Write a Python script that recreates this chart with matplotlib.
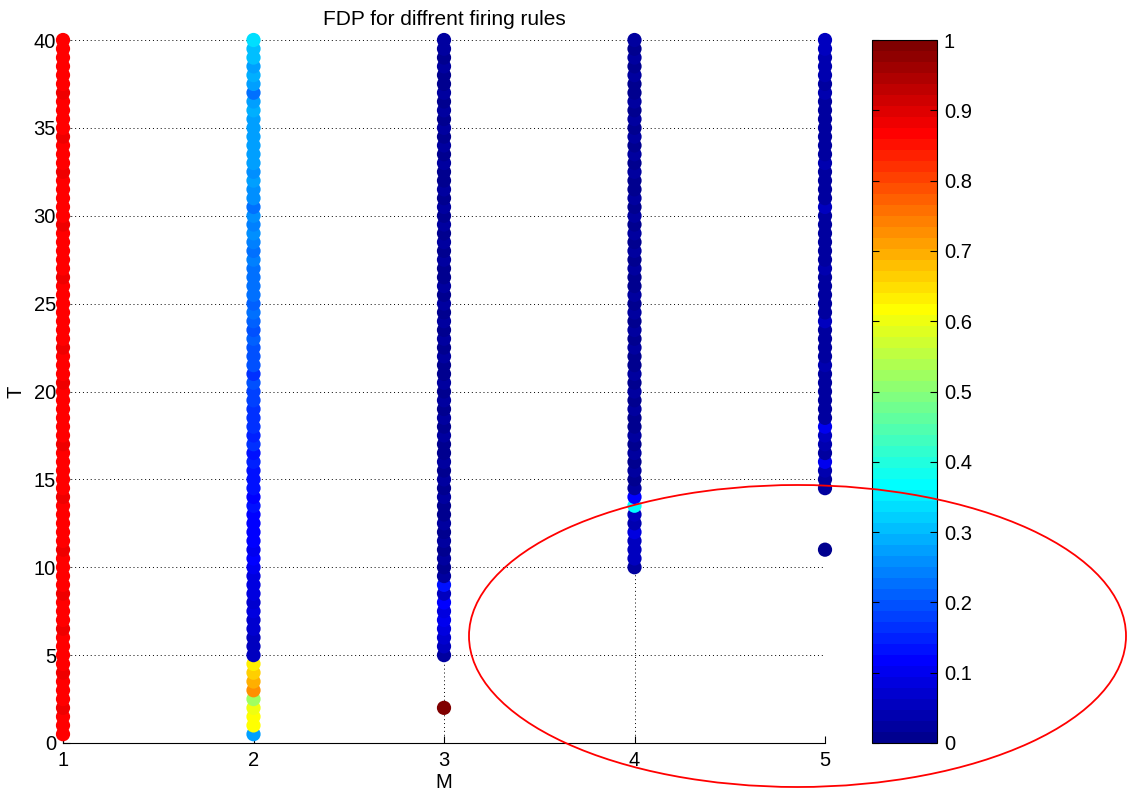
import numpy as np
import matplotlib
matplotlib.use("Agg")
import matplotlib.pyplot as plt
from matplotlib.patches import Ellipse
from matplotlib.colors import ListedColormap

plt.rcParams['font.family'] = ['Liberation Sans', 'DejaVu Sans']

# ---- data -------------------------------------------------------------
title = "FDP for diffrent firing rules"
x_label = "M"
y_label = "T"
M_values = [1, 2, 3, 4, 5]
T_step = 0.5

# M = 1 : T = 0.5 .. 40
T_m1 = np.arange(0.5, 40.0 + 1e-9, T_step)
fdp_m1 = [0.87, 0.86, 0.87, 0.88, 0.86, 0.87, 0.86, 0.88, 0.87, 0.86,
          0.87, 0.86, 0.88, 0.87, 0.86, 0.87, 0.88, 0.86, 0.87, 0.86,
          0.87, 0.88, 0.86, 0.87, 0.86, 0.87, 0.86, 0.88, 0.87, 0.86,
          0.87, 0.86, 0.87, 0.88, 0.86, 0.87, 0.86, 0.87, 0.86, 0.87,
          0.88, 0.86, 0.87, 0.86, 0.88, 0.87, 0.86, 0.87, 0.86, 0.87,
          0.86, 0.87, 0.88, 0.86, 0.87, 0.86, 0.87, 0.86, 0.88, 0.87,
          0.86, 0.87, 0.86, 0.87, 0.88, 0.86, 0.87, 0.86, 0.88, 0.87,
          0.86, 0.87, 0.86, 0.88, 0.87, 0.86, 0.87, 0.86, 0.87, 0.87]

# M = 2 : T = 0.5 .. 40
T_m2 = np.arange(0.5, 40.0 + 1e-9, T_step)
fdp_m2 = [0.28, 0.62, 0.61, 0.60, 0.52, 0.72, 0.70, 0.66, 0.64,
          0.05, 0.06, 0.06, 0.07, 0.07, 0.08, 0.07, 0.08, 0.09, 0.09,
          0.10, 0.11, 0.10, 0.11, 0.12, 0.11, 0.12, 0.13, 0.12, 0.13,
          0.13, 0.14, 0.15, 0.14, 0.16, 0.15, 0.17, 0.16, 0.17, 0.18,
          0.18, 0.19, 0.16, 0.20, 0.19, 0.20, 0.21, 0.20, 0.21, 0.22,
          0.21, 0.22, 0.23, 0.22, 0.23, 0.24, 0.23, 0.24, 0.25, 0.24,
          0.25, 0.22, 0.25, 0.26, 0.27, 0.26, 0.27, 0.28, 0.27, 0.28,
          0.27, 0.28, 0.29, 0.28, 0.22, 0.28, 0.29, 0.28, 0.30, 0.31,
          0.33]

# M = 3 : T = 2 and T = 5 .. 40
T_m3 = np.concatenate([[2.0], np.arange(5.0, 40.0 + 1e-9, T_step)])
fdp_m3 = [1.00,
          0.03, 0.05, 0.07, 0.08, 0.10, 0.08, 0.12, 0.06, 0.13, 0.02,
          0.01, 0.02, 0.01, 0.02, 0.01, 0.02, 0.01, 0.01, 0.02, 0.01,
          0.02, 0.01, 0.02, 0.01, 0.01, 0.02, 0.01, 0.02, 0.01, 0.02,
          0.01, 0.02, 0.01, 0.01, 0.02, 0.01, 0.02, 0.01, 0.02, 0.01,
          0.02, 0.01, 0.02, 0.01, 0.01, 0.02, 0.01, 0.02, 0.01, 0.02,
          0.01, 0.02, 0.01, 0.02, 0.01, 0.01, 0.02, 0.01, 0.02, 0.01,
          0.02, 0.01, 0.02, 0.01, 0.02, 0.01, 0.01, 0.02, 0.01, 0.02,
          0.02]

# M = 4 : T = 10 .. 40
T_m4 = np.arange(10.0, 40.0 + 1e-9, T_step)
fdp_m4 = [0.02, 0.05, 0.06, 0.05, 0.09, 0.04, 0.05, 0.36, 0.12, 0.02,
          0.01, 0.02, 0.01, 0.02, 0.01, 0.02, 0.01, 0.01, 0.02, 0.01,
          0.02, 0.01, 0.02, 0.01, 0.01, 0.02, 0.01, 0.02, 0.01, 0.02,
          0.01, 0.02, 0.01, 0.01, 0.02, 0.01, 0.02, 0.01, 0.02, 0.01,
          0.02, 0.01, 0.02, 0.01, 0.01, 0.02, 0.01, 0.02, 0.01, 0.02,
          0.01, 0.02, 0.01, 0.02, 0.01, 0.01, 0.02, 0.01, 0.02, 0.01,
          0.02]

# M = 5 : T = 11 and T = 14.5 .. 40
T_m5 = np.concatenate([[11.0], np.arange(14.5, 40.0 + 1e-9, T_step)])
fdp_m5 = [0.01,
          0.02, 0.03, 0.04, 0.10, 0.03, 0.04, 0.05, 0.10, 0.02,
          0.03, 0.02, 0.03, 0.02, 0.03, 0.04, 0.02, 0.03, 0.02, 0.03,
          0.05, 0.02, 0.03, 0.02, 0.03, 0.02, 0.04, 0.03, 0.02, 0.03,
          0.02, 0.03, 0.02, 0.05, 0.03, 0.02, 0.03, 0.02, 0.04, 0.03,
          0.02, 0.03, 0.02, 0.03, 0.02, 0.03, 0.04, 0.03, 0.04, 0.04,
          0.04, 0.05, 0.05]

columns = [(M_values[0], T_m1, fdp_m1),
           (M_values[1], T_m2, fdp_m2),
           (M_values[2], T_m3, fdp_m3),
           (M_values[3], T_m4, fdp_m4),
           (M_values[4], T_m5, fdp_m5)]


# ---- MATLAB-style jet(64) colormap -------------------------------------
def matlab_jet(m=64):
    n = int(np.ceil(m / 4))
    u = np.concatenate([np.arange(1, n + 1) / n, np.ones(n - 1),
                        np.arange(n, 0, -1) / n])
    g = int(np.ceil(n / 2)) - (1 if m % 4 == 1 else 0) + np.arange(1, len(u) + 1)
    r = g + n
    b = g - n
    g = g[g <= m]
    r = r[r <= m]
    b = b[b >= 1]
    J = np.zeros((m, 3))
    J[r - 1, 0] = u[:len(r)]
    J[g - 1, 1] = u[:len(g)]
    J[b - 1, 2] = u[len(u) - len(b):]
    return ListedColormap(J)


# ---- figure -------------------------------------------------------------
W, H, DPI = 1127, 797, 100
fig = plt.figure(figsize=(W / DPI, H / DPI), dpi=DPI)
ax = fig.add_axes([63 / W, 1 - 743 / H, (825 - 63) / W, (743 - 40) / H])
cax = fig.add_axes([872 / W, 1 - 743 / H, (937 - 872) / W, (743 - 40) / H])

cmap = matlab_jet(64)
FS = 14.5

sc = None
for m, t, v in columns:
    sc = ax.scatter(np.full(len(t), m), t, c=v, cmap=cmap, vmin=0, vmax=1,
                    s=105, edgecolors='none', zorder=3, clip_on=False)

ax.set_xlim(1, 5)
ax.set_ylim(0, 40)
ax.set_xticks(M_values)
ax.set_yticks(np.arange(0, 41, 5))
ax.grid(True, linestyle=(0, (1, 3)), color='black', linewidth=0.7)
ax.set_axisbelow(True)
for side in ('top', 'right'):
    ax.spines[side].set_visible(False)
for side in ('left', 'bottom'):
    ax.spines[side].set_linewidth(0.8)
ax.tick_params(direction='in', length=5, labelsize=FS, width=0.8)
ax.tick_params(axis='x', pad=6)
ax.tick_params(axis='y', pad=5)
ax.set_title(title, fontsize=15, pad=11)
ax.set_xlabel(x_label, fontsize=FS, labelpad=2)
ax.set_ylabel(y_label, fontsize=FS, labelpad=6)

cb = fig.colorbar(sc, cax=cax)
cb.set_ticks(np.arange(0, 1.01, 0.1))
cb.set_ticklabels(['0', '0.1', '0.2', '0.3', '0.4', '0.5', '0.6', '0.7',
                   '0.8', '0.9', '1'])
cax.tick_params(direction='in', length=5, labelsize=FS, width=0.8,
                left=True, right=True, pad=5)
cb.outline.set_linewidth(0.8)

# red annotation ellipse (figure coordinates)
ell = Ellipse((797.5 / W, 1 - 636 / H), 657 / W, 302 / H,
              transform=fig.transFigure, fill=False, edgecolor='red',
              linewidth=1.3, clip_on=False, zorder=10)
fig.patches.append(ell)

fig.savefig("out.png", dpi=DPI)
